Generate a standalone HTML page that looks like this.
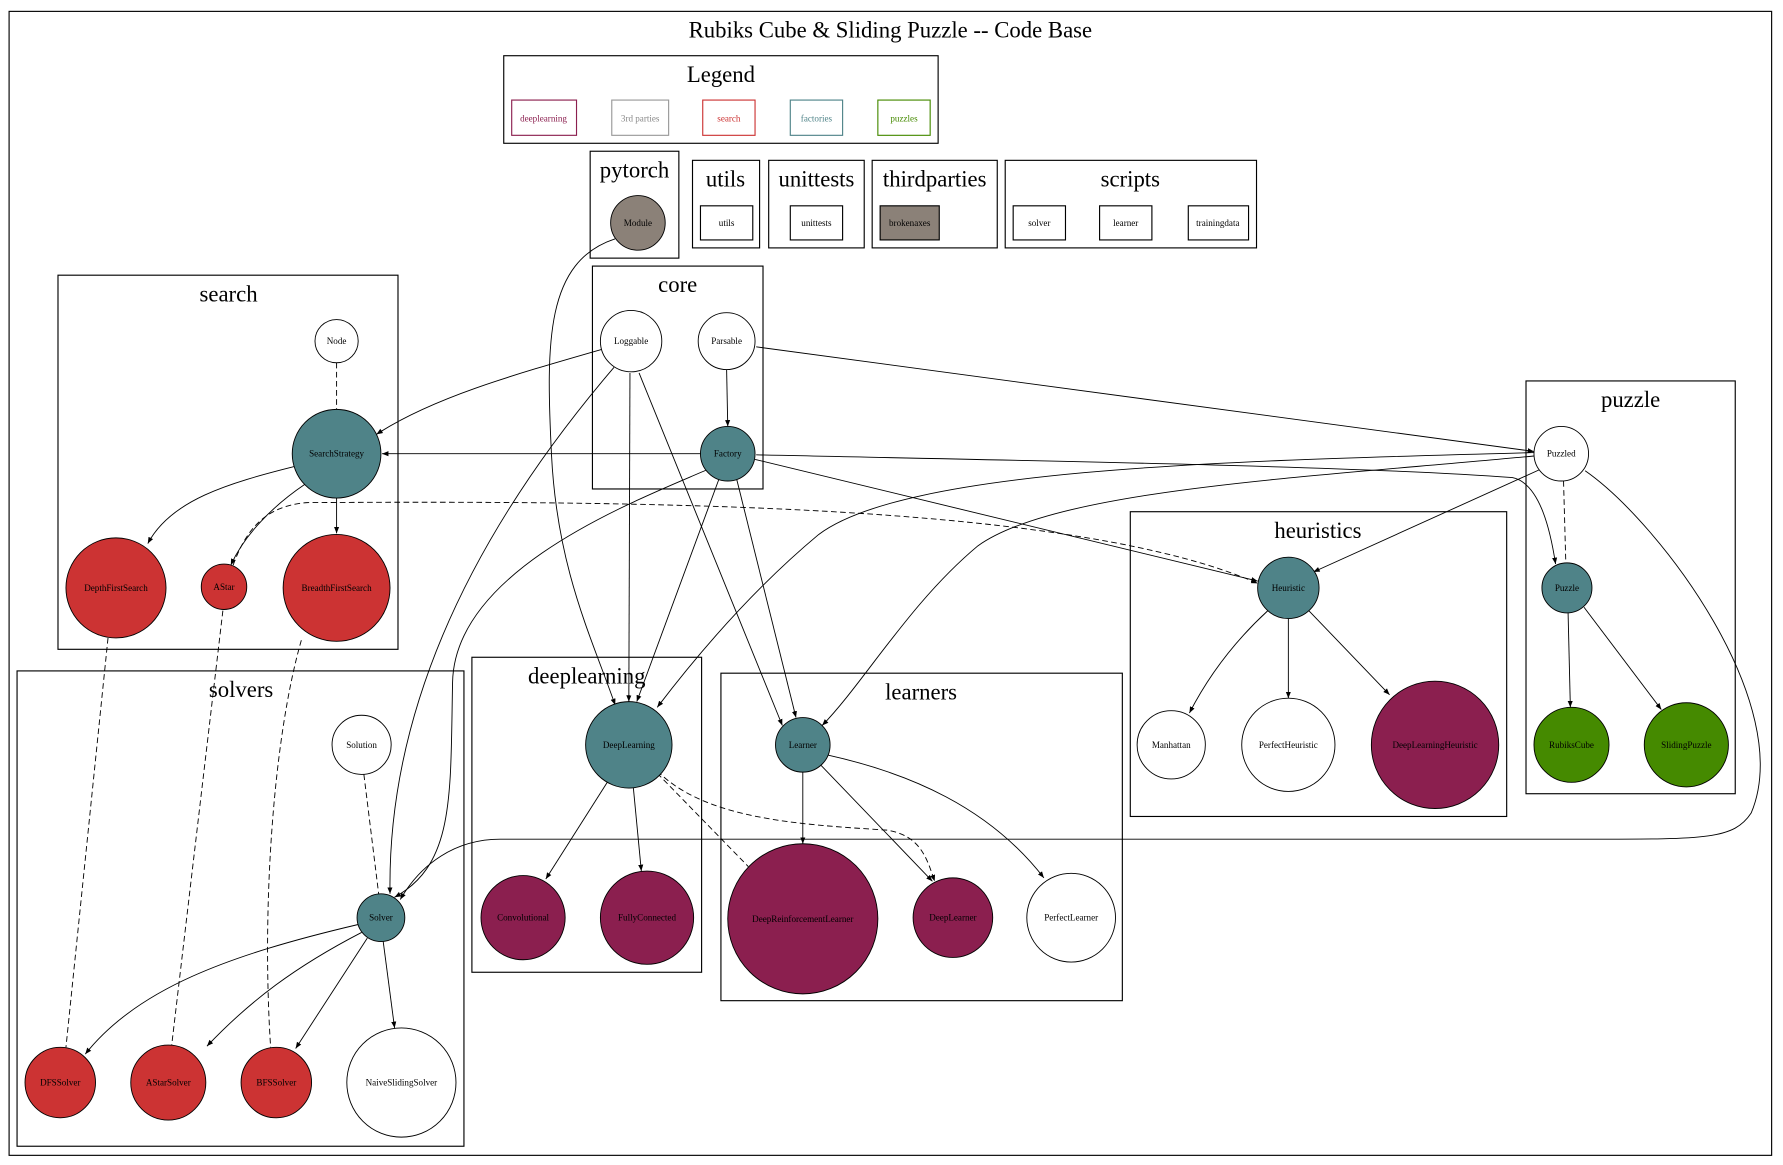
<!DOCTYPE html>
<html><head><meta charset="utf-8"><style>
html,body{margin:0;padding:0;background:#fff;}
svg{display:block;}
text{font-family:"Liberation Serif",serif;fill:#000;}
.t{font-size:20px;text-anchor:middle;}
.n{font-size:8px;text-anchor:middle;dominant-baseline:central;}
.c{fill:none;stroke:#000;stroke-width:1;}
.e{fill:none;stroke:#000;stroke-width:0.8;}
.d{fill:none;stroke:#000;stroke-width:0.8;stroke-dasharray:5,3;}
.nd{stroke:#000;stroke-width:0.8;}
</style></head><body>
<svg width="1783" height="1165" viewBox="0 0 1568 1024.5" preserveAspectRatio="none" xmlns="http://www.w3.org/2000/svg">
<defs><marker id="a" viewBox="0 0 10 10" refX="10" refY="5" markerWidth="7" markerHeight="7" orient="auto"><path d="M0,1 L10,5 L0,9 z" fill="#000"/></marker></defs>
<rect x="8" y="10" width="1550" height="1006" class="c"/>
<text x="783" y="33" class="t">Rubiks Cube &amp; Sliding Puzzle -- Code Base</text>

<!-- Legend -->
<rect x="443" y="49" width="382" height="77" class="c"/>
<text x="634" y="72" class="t">Legend</text>
<rect x="450" y="88" width="57" height="31" fill="none" stroke="#8b1f4f"/><text x="478" y="104" class="n" fill="#8b1f4f" style="fill:#8b1f4f">deeplearning</text>
<rect x="538" y="88" width="50" height="31" fill="none" stroke="#999"/><text x="563" y="104" class="n" style="fill:#888">3rd parties</text>
<rect x="618" y="88" width="46" height="31" fill="none" stroke="#cc3333"/><text x="641" y="104" class="n" style="fill:#cc3333">search</text>
<rect x="695" y="88" width="46" height="31" fill="none" stroke="#4f8388"/><text x="718" y="104" class="n" style="fill:#4f8388">factories</text>
<rect x="772" y="88" width="46" height="31" fill="none" stroke="#458a00"/><text x="795" y="104" class="n" style="fill:#458a00">puzzles</text>

<!-- top clusters -->
<rect x="519" y="133" width="78" height="94" class="c"/><text x="558" y="156" class="t">pytorch</text>
<rect x="609" y="141" width="59" height="77" class="c"/><text x="638" y="164" class="t">utils</text>
<rect x="616" y="181" width="46" height="30" class="c"/><text x="639" y="196" class="n">utils</text>
<rect x="676" y="141" width="84" height="77" class="c"/><text x="718" y="164" class="t">unittests</text>
<rect x="695" y="181" width="46" height="30" class="c"/><text x="718" y="196" class="n">unittests</text>
<rect x="767" y="141" width="110" height="77" class="c"/><text x="822" y="164" class="t">thirdparties</text>
<rect x="774" y="181" width="52" height="30" fill="#8b8178" stroke="#000"/><text x="800" y="196" class="n">brokenaxes</text>
<rect x="884" y="141" width="221" height="77" class="c"/><text x="994" y="164" class="t">scripts</text>
<rect x="891" y="181" width="46" height="30" class="c"/><text x="914" y="196" class="n">solver</text>
<rect x="967" y="181" width="46" height="30" class="c"/><text x="990" y="196" class="n">learner</text>
<rect x="1045" y="181" width="53" height="30" class="c"/><text x="1071" y="196" class="n">trainingdata</text>

<!-- clusters -->
<rect x="51" y="242" width="299" height="329" class="c"/><text x="201" y="265" class="t">search</text>
<rect x="521" y="234" width="150" height="196" class="c"/><text x="596" y="257" class="t">core</text>
<rect x="1342" y="335" width="184" height="363" class="c"/><text x="1434" y="358" class="t">puzzle</text>
<rect x="994" y="450" width="331" height="268" class="c"/><text x="1159" y="473" class="t">heuristics</text>
<rect x="15" y="590" width="393" height="418" class="c"/><text x="212" y="613" class="t">solvers</text>
<rect x="415" y="578" width="202" height="277" class="c"/><text x="516" y="601" class="t">deeplearning</text>
<rect x="634" y="592" width="353" height="288" class="c"/><text x="810" y="615" class="t">learners</text>

<!-- edges -->
<path class="e" marker-end="url(#a)" d="M530,307 C450,330 380,350 331,382"/>
<path class="e" marker-end="url(#a)" d="M616,399 L336,399"/>
<path class="e" marker-end="url(#a)" d="M639,325 L640,375"/>
<path class="e" marker-end="url(#a)" d="M665,305 L1349,397"/>
<path class="e" marker-end="url(#a)" d="M554,328 L553,617"/>
<path class="e" marker-end="url(#a)" d="M562,328 L688,638"/>
<path class="e" marker-end="url(#a)" d="M540,323 C440,440 340,600 343,786"/>
<path class="e" marker-end="url(#a)" d="M622,413 C560,440 400,500 398,600 C396,700 400,760 347,789"/>
<path class="e" marker-end="url(#a)" d="M632,422 L560,617"/>
<path class="e" marker-end="url(#a)" d="M648,422 L700,631"/>
<path class="e" marker-end="url(#a)" d="M664,404 L1106,511"/>
<path class="e" marker-end="url(#a)" d="M665,400 C900,405 1200,410 1330,420 C1355,425 1364,470 1368,496"/>
<path class="e" marker-end="url(#a)" d="M1354,413 L1155,503"/>
<path class="e" marker-end="url(#a)" d="M1349,398 C1100,405 800,410 720,470 C660,520 610,580 578,622"/>
<path class="e" marker-end="url(#a)" d="M1349,401 C1150,420 930,430 860,480 C800,530 760,600 723,638"/>
<path class="e" marker-end="url(#a)" d="M1394,414 C1460,460 1580,620 1540,715 C1525,738 1500,738 1400,738 L440,738 C400,738 370,760 352,791"/>
<path class="e" marker-end="url(#a)" d="M541,210 C480,230 480,300 485,400 C490,500 520,560 541,620"/>
<path class="e" marker-end="url(#a)" d="M260,410 C200,425 150,440 130,478"/>
<path class="e" marker-end="url(#a)" d="M296,438 L296,469"/>
<path class="e" marker-end="url(#a)" d="M268,426 C240,445 215,470 203,497"/>
<path class="e" marker-end="url(#a)" d="M1115,537 C1090,560 1065,590 1046,627"/>
<path class="e" marker-end="url(#a)" d="M1133,544 L1133,614"/>
<path class="e" marker-end="url(#a)" d="M1151,537 L1222,611"/>
<path class="e" marker-end="url(#a)" d="M1379,539 L1381,622"/>
<path class="e" marker-end="url(#a)" d="M1393,534 L1461,624"/>
<path class="e" marker-end="url(#a)" d="M534,688 L480,773"/>
<path class="e" marker-end="url(#a)" d="M557,693 L564,766"/>
<path class="e" marker-end="url(#a)" d="M706,679 L706,742"/>
<path class="e" marker-end="url(#a)" d="M722,673 L820,775"/>
<path class="e" marker-end="url(#a)" d="M728,664 C800,680 870,710 918,772"/>
<path class="e" marker-end="url(#a)" d="M315,813 C200,840 120,870 75,927"/>
<path class="e" marker-end="url(#a)" d="M318,820 C260,850 220,880 182,920"/>
<path class="e" marker-end="url(#a)" d="M323,825 L260,922"/>
<path class="e" marker-end="url(#a)" d="M337,828 L347,904"/>
<!-- dashed -->
<path class="d" d="M296,319 L296,360"/>
<path class="d" d="M1375,423 L1377,495"/>
<path class="d" d="M320,681 L333,786"/>
<path class="d" d="M95,561 L58,921"/>
<path class="d" d="M196,537 L151,919"/>
<path class="d" d="M265,563 C240,650 230,800 238,921"/>
<path class="d" d="M578,680 L658,762"/>
<path class="d" marker-end="url(#a)" d="M578,678 C620,720 700,725 780,730 C810,735 815,755 822,775"/>
<path class="d" marker-end="url(#a)" d="M205,497 C215,470 230,445 270,442 C600,440 950,445 1106,513"/>

<!-- nodes -->
<circle cx="561" cy="196" r="24" fill="#8b8178" class="nd"/><text x="561" y="196" class="n">Module</text>
<circle cx="296" cy="300" r="19" fill="#fff" class="nd"/><text x="296" y="300" class="n">Node</text>
<circle cx="296" cy="399" r="39" fill="#4f8388" class="nd"/><text x="296" y="399" class="n">SearchStrategy</text>
<circle cx="102" cy="517" r="44" fill="#cc3333" class="nd"/><text x="102" y="517" class="n">DepthFirstSearch</text>
<circle cx="197" cy="516" r="20" fill="#cc3333" class="nd"/><text x="197" y="516" class="n">AStar</text>
<circle cx="296" cy="517" r="47" fill="#cc3333" class="nd"/><text x="296" y="517" class="n">BreadthFirstSearch</text>
<circle cx="555" cy="300" r="27" fill="#fff" class="nd"/><text x="555" y="300" class="n">Loggable</text>
<circle cx="639" cy="300" r="25" fill="#fff" class="nd"/><text x="639" y="300" class="n">Parsable</text>
<circle cx="640" cy="399" r="24" fill="#4f8388" class="nd"/><text x="640" y="399" class="n">Factory</text>
<circle cx="1373" cy="399" r="24" fill="#fff" class="nd"/><text x="1373" y="399" class="n">Puzzled</text>
<circle cx="1378" cy="517" r="22" fill="#4f8388" class="nd"/><text x="1378" y="517" class="n">Puzzle</text>
<circle cx="1382" cy="655" r="33" fill="#458a00" class="nd"/><text x="1382" y="655" class="n">RubiksCube</text>
<circle cx="1483" cy="655" r="37" fill="#458a00" class="nd"/><text x="1483" y="655" class="n">SlidingPuzzle</text>
<circle cx="1133" cy="517" r="27" fill="#4f8388" class="nd"/><text x="1133" y="517" class="n">Heuristic</text>
<circle cx="1030" cy="655" r="30" fill="#fff" class="nd"/><text x="1030" y="655" class="n">Manhattan</text>
<circle cx="1133" cy="655" r="41" fill="#fff" class="nd"/><text x="1133" y="655" class="n">PerfectHeuristic</text>
<circle cx="1262" cy="655" r="56" fill="#8b1f4f" class="nd"/><text x="1262" y="655" class="n">DeepLearningHeuristic</text>
<circle cx="318" cy="655" r="26" fill="#fff" class="nd"/><text x="318" y="655" class="n">Solution</text>
<circle cx="335" cy="807" r="21" fill="#4f8388" class="nd"/><text x="335" y="807" class="n">Solver</text>
<circle cx="53" cy="952" r="31" fill="#cc3333" class="nd"/><text x="53" y="952" class="n">DFSSolver</text>
<circle cx="148" cy="952" r="33" fill="#cc3333" class="nd"/><text x="148" y="952" class="n">AStarSolver</text>
<circle cx="243" cy="952" r="31" fill="#cc3333" class="nd"/><text x="243" y="952" class="n">BFSSolver</text>
<circle cx="353" cy="952" r="48" fill="#fff" class="nd"/><text x="353" y="952" class="n">NaiveSlidingSolver</text>
<circle cx="553" cy="655" r="38" fill="#4f8388" class="nd"/><text x="553" y="655" class="n">DeepLearning</text>
<circle cx="460" cy="807" r="37" fill="#8b1f4f" class="nd"/><text x="460" y="807" class="n">Convolutional</text>
<circle cx="569" cy="807" r="41" fill="#8b1f4f" class="nd"/><text x="569" y="807" class="n">FullyConnected</text>
<circle cx="706" cy="655" r="24" fill="#4f8388" class="nd"/><text x="706" y="655" class="n">Learner</text>
<circle cx="706" cy="808" r="66" fill="#8b1f4f" class="nd"/><text x="706" y="808" class="n">DeepReinforcementLearner</text>
<circle cx="838" cy="807" r="35" fill="#8b1f4f" class="nd"/><text x="838" y="807" class="n">DeepLearner</text>
<circle cx="942" cy="807" r="39" fill="#fff" class="nd"/><text x="942" y="807" class="n">PerfectLearner</text>
</svg>
</body></html>
